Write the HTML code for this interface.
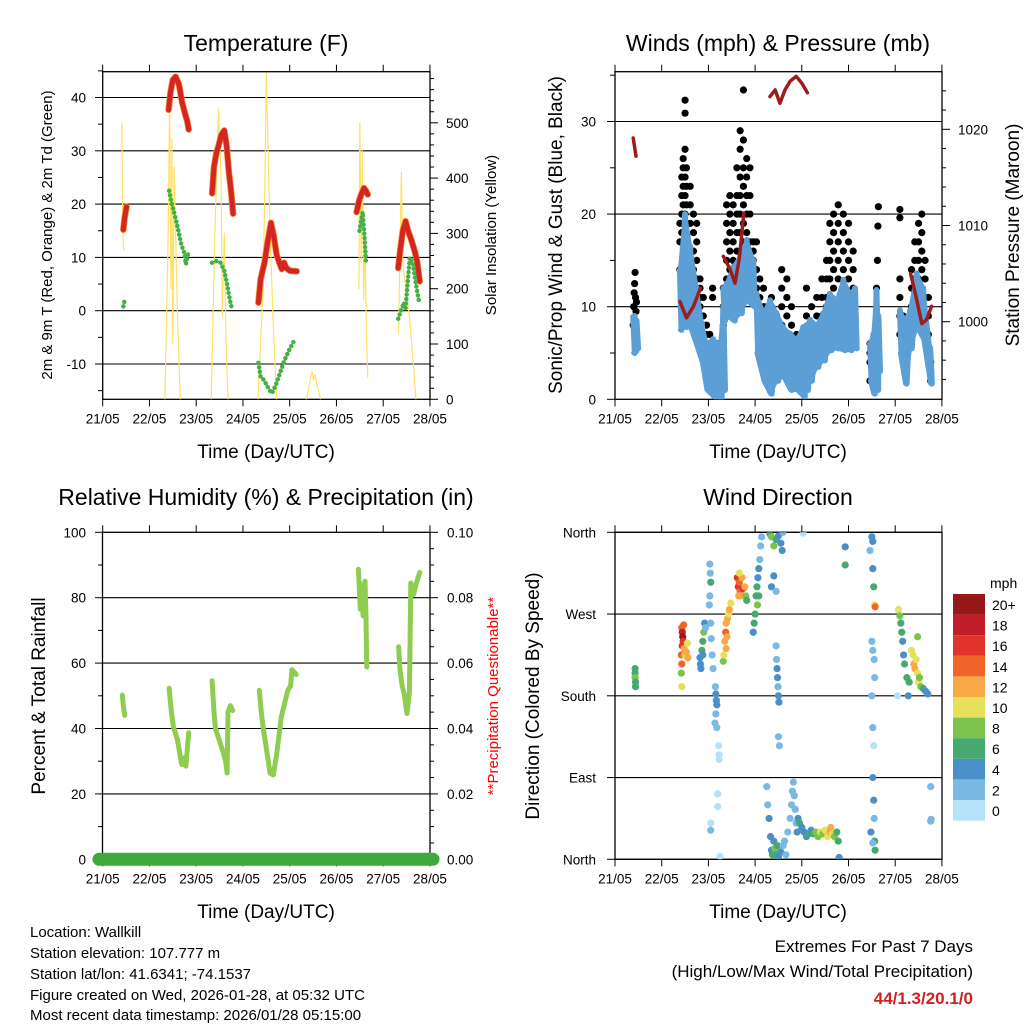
<!DOCTYPE html>
<html><head><meta charset="utf-8">
<style>
html,body{margin:0;padding:0;background:#fff;}
svg{display:block;font-family:"Liberation Sans",sans-serif;}
</style></head>
<body>
<svg id="chart" width="1024" height="1024" viewBox="0 0 1024 1024" xmlns="http://www.w3.org/2000/svg">
<defs>
<clipPath id="cTL"><rect x="102.7" y="71.7" width="327.3" height="327.6"/></clipPath>
<clipPath id="cTR"><rect x="615" y="71.7" width="327" height="327.6"/></clipPath>
<clipPath id="cBL"><rect x="102.5" y="532.3" width="327.5" height="327"/></clipPath>
<clipPath id="cBR"><rect x="615" y="532.3" width="327" height="327"/></clipPath>
</defs>
<g id="layer"></g>
<text x="266" y="51" font-size="23" text-anchor="middle">Temperature (F)</text>
<text x="778" y="51" font-size="23" text-anchor="middle">Winds (mph) &amp; Pressure (mb)</text>
<text x="266" y="505" font-size="23" text-anchor="middle">Relative Humidity (%) &amp; Precipitation (in)</text>
<text x="778" y="505" font-size="23" text-anchor="middle">Wind Direction</text>
<text x="266" y="458" font-size="19" text-anchor="middle">Time (Day/UTC)</text>
<text x="778" y="458" font-size="19" text-anchor="middle">Time (Day/UTC)</text>
<text x="266" y="918" font-size="19" text-anchor="middle">Time (Day/UTC)</text>
<text x="778" y="918" font-size="19" text-anchor="middle">Time (Day/UTC)</text>
<text transform="translate(52,235) rotate(-90)" font-size="15" text-anchor="middle">2m &amp; 9m T (Red, Orange) &amp; 2m Td (Green)</text>
<text transform="translate(496,235) rotate(-90)" font-size="15" text-anchor="middle">Solar Insolation (Yellow)</text>
<text transform="translate(562,235) rotate(-90)" font-size="19" text-anchor="middle">Sonic/Prop Wind &amp; Gust (Blue, Black)</text>
<text transform="translate(1019,235) rotate(-90)" font-size="19" text-anchor="middle">Station Pressure (Maroon)</text>
<text transform="translate(45,696) rotate(-90)" font-size="19" text-anchor="middle">Percent &amp; Total Rainfall</text>
<text transform="translate(498,696) rotate(-90)" font-size="15" fill="#ff0000" text-anchor="middle">**Precipitation Questionable**</text>
<text transform="translate(539,696) rotate(-90)" font-size="19" text-anchor="middle">Direction (Colored By Speed)</text>
<g font-size="15">
<text x="30" y="937">Location: Wallkill</text>
<text x="30" y="958">Station elevation: 107.777 m</text>
<text x="30" y="979">Station lat/lon: 41.6341; -74.1537</text>
<text x="30" y="1000">Figure created on Wed, 2026-01-28, at 05:32 UTC</text>
<text x="30" y="1020">Most recent data timestamp: 2026/01/28 05:15:00</text>
</g>
<g font-size="17" text-anchor="end">
<text x="973" y="952">Extremes For Past 7 Days</text>
<text x="973" y="977">(High/Low/Max Wind/Total Precipitation)</text>
<text x="973" y="1004" fill="#cc2222" font-weight="bold">44/1.3/20.1/0</text>
</g>
</svg>
<script>
// ---------- data ----------
const dayLabels=["21/05","22/05","23/05","24/05","25/05","26/05","27/05","28/05"];
const tempTicks=[-10,0,10,20,30,40];
const solarTicks=[0,100,200,300,400,500];
const windTicks=[0,10,20,30];
const presTicks=[1000,1010,1020];
const rhTicks=[0,20,40,60,80,100];
const precipTicks=["0.00","0.02","0.04","0.06","0.08","0.10"];
const dirTicks=["North","West","South","East","North"];
const legendLabels=["0","2","4","6","8","10","12","14","16","18","20+"];
const legendColors=["#b5e2f8","#7ab9e4","#4a8fc8","#47a872","#7cc34c","#e6e05a","#f8a844","#f06428","#e0342a","#c01e28","#961818"];

const tempSegs=[
 [[0.44,15.2],[0.47,17.5],[0.51,19.5]],
 [[1.41,37.7],[1.45,41],[1.50,43.3],[1.56,43.9],[1.63,42.5],[1.70,39],[1.76,37],[1.81,35.5],[1.84,34]],
 [[2.34,22],[2.38,27],[2.43,29.5],[2.48,31],[2.54,33],[2.60,33.8],[2.65,31],[2.70,26],[2.75,22],[2.79,18.2]],
 [[3.33,1.5],[3.38,6],[3.46,9],[3.53,13],[3.60,16.5],[3.66,14],[3.72,10.5],[3.78,9],[3.83,7.8],[3.88,9],[3.93,8],[4.0,7.5],[4.15,7.4]],
 [[5.43,18.5],[5.48,20.5],[5.53,21.8],[5.59,23],[5.63,22.5],[5.67,21.8]],
 [[6.32,8],[6.36,11],[6.42,15],[6.48,16.8],[6.53,15],[6.60,13.3],[6.68,11],[6.73,9],[6.78,5.5]]
];
const dewSegs=[
 [[0.44,0.8],[0.47,2]],
 [[1.42,22.5],[1.48,20],[1.54,18],[1.62,15],[1.68,12.5],[1.74,11],[1.78,8.7],[1.83,11]],
 [[2.34,9],[2.43,9.3],[2.52,9],[2.60,7.5],[2.66,5],[2.70,3],[2.76,0.5]],
 [[3.33,-9.8],[3.38,-12.5],[3.45,-13],[3.51,-14],[3.56,-14.8],[3.62,-15.5],[3.70,-14],[3.78,-12],[3.88,-9.5],[3.98,-7.5],[4.12,-5.2]],
 [[5.49,15],[5.53,17],[5.56,18.5],[5.60,14],[5.63,9.2]],
 [[6.32,-1.5],[6.38,0],[6.44,1.5],[6.48,0.5],[6.53,6],[6.57,10],[6.63,9],[6.70,5],[6.77,1.5]]
];
const solarSegs=[
 [[0.41,500],[0.43,300],[0.45,270]],
 [[1.33,0],[1.40,300],[1.43,540],[1.46,200],[1.48,470],[1.50,100],[1.53,420],[1.56,300],[1.60,150],[1.66,0]],
 [[2.32,0],[2.40,300],[2.45,450],[2.48,525],[2.53,400],[2.56,150],[2.60,300],[2.64,100],[2.68,0]],
 [[3.32,0],[3.43,200],[3.47,390],[3.50,590],[3.53,480],[3.58,300],[3.64,150],[3.72,0]],
 [[4.36,0],[4.45,40],[4.48,50],[4.51,35],[4.54,45],[4.60,20],[4.66,0]],
 [[5.48,200],[5.50,500],[5.53,250],[5.55,450],[5.58,180],[5.61,300],[5.64,120],[5.67,40]],
 [[6.33,120],[6.39,410],[6.42,250],[6.48,200],[6.56,150],[6.63,80],[6.70,0]]
];
const rhSegs=[
 [[0.42,50.2],[0.44,47],[0.47,44]],
 [[1.42,52.3],[1.47,45],[1.51,40.6],[1.60,36.5],[1.69,29],[1.74,31],[1.78,28.5],[1.84,38.7]],
 [[2.34,54.6],[2.38,45],[2.41,40],[2.55,34],[2.63,30],[2.66,26.4],[2.68,45],[2.73,47],[2.78,45.5]],
 [[3.35,51.7],[3.40,44],[3.44,39.5],[3.52,32],[3.58,26.3],[3.65,25.8],[3.72,32],[3.82,43.5],[3.96,51.7],[4.02,53],[4.05,58],[4.14,56.5]],
 [[5.47,88.7],[5.51,76.5],[5.53,84],[5.57,74.5],[5.61,85],[5.63,75],[5.65,58.8]],
 [[6.33,65],[6.36,58],[6.40,53.5],[6.45,50.5],[6.51,44.6],[6.56,51],[6.59,84.5],[6.65,81],[6.70,84],[6.78,87.7]]
];
const precipT=[-0.1,7.1];
const precipV=[0,0];

const windBandT=[[0.39,0.42,0.46],
 [1.39,1.50,1.61,1.75,1.86,1.96,2.10,2.25,2.32],
 [2.32,2.39,2.53,2.68,2.82,2.96],
 [3.03,3.18,3.32,3.46,3.60,3.75,3.89,4.03],
 [4.10,4.18,4.32,4.46,4.60,4.75,4.89,5.03,5.14],
 [5.46,5.53,5.60,5.64],
 [6.10,6.21,6.32,6.46,6.60,6.75]];
const windHi=[[8.9,9,8.5],
 [14,20,16.5,12,8.2,6,6.5,5.8,10],
 [12,12.5,14.3,15.4,17.2,15],
 [11.4,9.3,10.7,9.3,7.8,7.1,6.5,7.8],
 [8,8.6,8,9.3,11.4,10.7,12.9,11.4,12],
 [6,7,11.8,9],
 [9.6,8.5,9.6,13.6,12,5.5]];
const windLo=[[5,5.2,5.5],
 [7.5,7.8,7.8,5.7,4,1,0.3,0,1],
 [8.5,9,8.5,9.3,10.7,10],
 [5,2,0.6,2,2.5,1,1,0.3],
 [1,2,3.5,4.2,5.3,5.5,5.3,5.3,5.5],
 [2,0.6,1,3],
 [5,1.7,5.5,7.8,6.5,1.7]];

const gustT=[0.39,0.40,0.41,0.42,0.43,0.44,0.45,0.46,0.43,
1.39,1.39,1.39,1.43,1.43,1.43,1.43,1.46,1.46,1.46,1.46,1.46,1.50,1.50,1.50,1.50,1.50,1.50,1.50,1.53,1.53,1.53,1.53,1.53,1.61,1.61,1.61,1.61,1.61,1.68,1.68,1.68,1.68,1.68,1.75,1.75,1.75,1.75,1.75,1.82,1.82,1.82,1.82,1.89,1.89,1.89,1.96,1.96,1.96,2.03,2.03,2.03,2.03,2.09,2.09,2.09,2.09,2.18,2.18,2.18,2.18,2.25,2.25,2.25,2.25,
2.32,2.32,2.32,2.39,2.39,2.39,2.39,2.39,2.46,2.46,2.46,2.46,2.46,2.53,2.53,2.53,2.53,2.61,2.61,2.61,2.61,2.61,2.68,2.68,2.68,2.68,2.68,2.68,2.75,2.75,2.75,2.75,2.75,2.75,2.75,2.82,2.82,2.82,2.82,2.82,2.82,2.89,2.89,2.89,2.89,2.89,2.96,2.96,2.96,2.96,2.96,
3.03,3.03,3.03,3.03,3.10,3.10,3.10,3.10,3.18,3.18,3.18,3.18,3.25,3.25,3.25,3.35,3.35,3.35,3.35,3.46,3.46,3.46,3.46,3.57,3.57,3.57,3.57,3.57,3.68,3.68,3.68,3.68,3.68,3.78,3.78,3.78,3.78,3.89,3.89,3.89,3.89,3.89,4.00,4.00,4.00,4.00,4.10,4.10,4.10,4.10,
4.21,4.21,4.21,4.32,4.32,4.32,4.43,4.43,4.43,4.43,4.53,4.53,4.53,4.53,4.60,4.60,4.60,4.60,4.60,4.68,4.68,4.68,4.68,4.68,4.78,4.78,4.78,4.78,4.78,4.89,4.89,4.89,4.89,4.89,5.00,5.00,5.00,5.00,5.00,5.10,5.10,5.10,5.10,
5.46,5.46,5.46,5.46,5.53,5.53,5.60,5.62,5.63,5.64,
6.10,6.10,6.10,6.10,6.10,6.10,6.17,6.17,6.17,6.17,6.35,6.35,6.35,6.35,6.35,6.42,6.42,6.42,6.42,6.50,6.50,6.50,6.50,6.57,6.57,6.57,6.57,6.64,6.64,6.64,6.64,6.71,6.71,6.71,6.76,6.76,6.76];
const gustV=[8,10,11.5,12.5,13.7,11,9.5,10.5,8.5,
14,17,19,20,22,24,18,26,25,23,21,19,32.3,30.9,27,24,22,20,18,25,23,21,19,17,23,21,19,16,14,20,18,16,14,12,19,17,15,13,11,13,12,11,10,11,9,8,8,7,6,7,5,4,3,12,11,6,4,6,5,3,2,5,3,1,0.2,
12,10,8,21,19,17,15,13,22,20,18,16,14,21,19,17,15,25,22,20,18,16,29,27,24,22,20,18,33.4,28,25,23,21,19,17,26,24,22,20,18,16,25,22,20,17,15,17,16,15,14,12,
17,14,12,10,13,11,9,8,12,10,8,6,10,8,6,11,9,8,6,9,7,6,5,14,12,10,8,6,13,11,9,7,5,10,8,6,5,7,6,5,4,3,6,5,4,3,12,9,7,5,
10,8,6,11,9,7,13,11,9,8,15,13,11,10,19,17,15,13,11,20,18,16,14,12,21,19,17,15,13,20,18,16,14,12,19,17,15,13,11,16,14,12,11,
6,5,4,2,4,3,12,15,18.7,20.8,
20.5,19.6,13,11,9,7,9,8,6,4,14,12,10,8,7,17,15,13,11,19,17,15,13,20,18,16,14,15,13,11,9,11,9,7,4,3,2];

const presSegs=[
 [[0.39,1019.1],[0.45,1017.2]],
 [[1.39,1002.1],[1.53,1000.4],[1.68,1001.6],[1.83,1003.5]],
 [[2.32,1006.8],[2.46,1005.5],[2.57,1004],[2.66,1006.5],[2.76,1011.3]],
 [[3.32,1023.4],[3.43,1024.1],[3.53,1022.7],[3.64,1024.1],[3.75,1025],[3.88,1025.5],[4.0,1024.8],[4.12,1023.8]],
 [[5.46,987.5],[5.53,985.8],[5.64,987.2]],
 [[6.33,1005],[6.46,1002.3],[6.57,999.8],[6.67,1000.2],[6.78,1001.6]]
];

const dirT=[0.43,0.43,0.44,0.43,0.44,
1.43,1.44,1.45,1.46,1.44,1.47,1.42,1.43,1.43,1.48,1.50,1.53,1.56,1.55,1.42,
1.82,1.83,1.84,1.86,1.88,1.90,1.92,1.94,1.88,
2.03,2.04,2.05,2.03,2.02,2.05,2.06,2.08,2.10,2.15,2.16,2.17,2.18,2.16,2.14,2.18,2.22,2.23,2.23,2.20,2.20,2.05,2.05,2.25,
2.32,2.33,2.35,2.37,2.38,2.41,2.43,2.45,2.48,2.40,2.38,
2.62,2.64,2.66,2.68,2.70,2.72,2.74,2.66,2.65,2.78,2.80,2.82,
2.96,2.98,3.00,3.02,3.04,3.06,3.08,3.10,3.12,3.14,3.08,3.05,
3.32,3.35,3.40,3.45,3.50,3.55,3.60,3.58,3.35,3.45,3.40,4.03,
3.45,3.46,3.47,3.48,3.49,3.50,3.51,3.50,3.52,
3.25,3.27,3.30,3.33,3.35,3.37,3.40,3.42,3.45,3.48,3.50,3.55,3.60,3.63,3.66,3.70,3.75,3.78,3.80,3.82,3.84,3.86,3.88,3.90,3.92,3.95,4.00,4.05,4.10,4.15,4.20,4.25,4.30,4.35,4.40,4.45,4.50,4.55,4.60,4.62,4.65,4.70,4.75,4.78,4.80,
5.46,5.50,5.52,5.52,5.54,5.56,5.57,5.50,5.52,5.55,5.56,5.50,5.52,5.54,5.52,5.54,5.55,5.48,5.56,5.57,5.52,4.93,4.93,
6.07,6.10,6.12,6.14,6.16,6.18,6.20,6.25,6.30,6.35,6.38,6.40,6.42,6.45,6.48,6.50,6.52,6.55,6.60,6.65,6.70,6.48,6.28,6.05,6.76,6.76,6.77];
const dirD=[205,200,195,210,190,
255,250,245,240,235,258,225,215,190,232,225,228,222,238,205,
222,215,210,230,240,250,260,255,225,
325,315,305,290,280,260,243,225,210,190,182,175,170,160,150,145,125,115,110,72,58,40,32,3,
218,225,240,250,260,265,270,275,282,245,232,
310,300,305,295,290,310,298,315,290,300,290,285,
250,260,270,290,300,310,320,330,345,355,290,280,
358,355,345,352,356,348,360,340,300,295,312,359,
235,220,210,200,190,180,173,135,125,
80,60,45,25,10,5,20,12,5,15,3,8,15,20,5,30,45,60,75,85,70,55,40,30,45,40,35,30,25,28,32,28,30,25,30,28,32,25,30,35,28,25,30,20,2,
340,355,350,320,300,280,278,240,230,220,200,180,145,125,90,65,45,30,20,10,18,344,324,
275,268,260,250,240,225,215,200,195,230,225,215,210,220,205,195,200,190,188,185,182,245,180,180,80,42,44];
const dirS=[7,8,7,6,6,
15,18,20,17,16,14,14,15,10,12,11,12,13,10,8,
4,5,4,6,7,8,4,3,5,
3,2,6,3,2,2,2,3,3,2,4,4,4,3,2,2,1,1,1,1,1,1,2,1,
9,10,13,14,13,12,11,12,11,12,13,
16,17,14,15,13,12,16,10,12,12,8,7,
4,7,6,6,7,5,4,3,3,3,7,8,
6,8,8,7,4,4,3,5,5,2,4,1,
2,3,4,4,3,4,5,3,2,
2,2,4,4,5,6,5,8,6,7,5,4,3,2,2,3,2,3,2,3,2,3,3,4,5,6,5,4,5,6,5,7,8,8,10,9,11,10,12,13,10,8,6,7,4,
3,4,4,4,6,11,14,2,2,2,2,2,2,1,4,4,2,4,6,6,2,4,7,
10,8,7,6,5,4,6,6,7,10,11,12,13,10,11,11,9,8,7,5,4,8,4,1,3,3,3];

// ---------- scales ----------
const L={x0:102.7,day:46.75}, R={x0:615,day:46.7};
const xL=t=>L.x0+t*L.day, xR=t=>R.x0+t*R.day;
const tempY=v=>310.7-v*5.33, solarY=s=>399.3-s*0.553;
const windY=v=>399.3-v*9.26, presY=p=>129.3-(p-1020)*9.62;
const rhY=v=>859.3-v*3.27, dirY=d=>859.3-d*0.9083;

const NS="http://www.w3.org/2000/svg";
const layer=document.getElementById('layer');
function mk(tag,attrs,parent){const e=document.createElementNS(NS,tag);for(const k in attrs)e.setAttribute(k,attrs[k]);(parent||layer).appendChild(e);return e;}
function txt(x,y,s,anchor,size,parent){const e=mk('text',{x:x,y:y,'font-size':size||13,'text-anchor':anchor||'middle'},parent);e.textContent=s;return e;}
function poly(pts,fx,fy,attrs,parent){const d=pts.map((p,i)=>(i?'L':'M')+fx(p[0]).toFixed(1)+','+fy(p[1]).toFixed(1)).join('');const a=Object.assign({d:d,fill:'none','stroke-linejoin':'round','stroke-linecap':'round'},attrs);return mk('path',a,parent);}

function frame(x0,y0,x1,y1,name,xfun){
  const g=mk('g',{});
  
  
  mk('rect',{x:x0,y:y0,width:x1-x0,height:y1-y0,fill:'none',stroke:'#000','stroke-width':1.3},g);
  dayLabels.forEach((lab,i)=>{const x=xfun(i);
    mk('line',{x1:x,x2:x,y1:y1,y2:y1+7,stroke:'#000','stroke-width':1},g);
    mk('line',{x1:x,x2:x,y1:y0,y2:y0-7,stroke:'#000','stroke-width':1},g);
    const t=txt(x,y1+24,lab,'middle',13.5,g);
    
    
  });
  return g;
}
function grid(y,x0,x1,g){mk('line',{x1:x0,x2:x1,y1:y,y2:y,stroke:'#000','stroke-width':1.1},g);}

// ===== Panel TL: Temperature =====
{
 const g=frame(102.7,71.7,430,399.3,'temperature',xL);
 tempTicks.forEach(v=>{const y=tempY(v);grid(y,102.7,430,g);mk('line',{x1:95,x2:102.7,y1:y,y2:y,stroke:'#000'},g);txt(86,y+5,String(v),'end',13.5,g);});
 for(let v=-15;v<=45;v+=5){if(v%10){const y=tempY(v);mk('line',{x1:98,x2:102.7,y1:y,y2:y,stroke:'#000'},g);}}
 solarTicks.forEach(s=>{const y=solarY(s);mk('line',{x1:430,x2:438,y1:y,y2:y,stroke:'#000'},g);txt(446,y+5,String(s),'start',13.5,g);});
 for(let s=20;s<600;s+=20){if(s%100){const y=solarY(s);if(y>71.7)mk('line',{x1:430,x2:434,y1:y,y2:y,stroke:'#000'},g);}}
 const c=mk('g',{'clip-path':'url(#cTL)'});
 
 
 solarSegs.forEach(s=>{const p=poly(s,xL,solarY,{stroke:'#ffe066','stroke-width':1.2},c);
  
  });
 tempSegs.forEach(s=>{const p=poly(s,xL,tempY,{stroke:'#f58a2a','stroke-width':6.5},c);
  
  });
 tempSegs.forEach(s=>{const p=poly(s,xL,tempY,{stroke:'#d42424','stroke-width':5},c);
  
  });
 dewSegs.forEach(s=>{const p=poly(s,xL,tempY,{stroke:'#44b044','stroke-width':4.5,'stroke-dasharray':'0 4.5'},c);
  
  });
}
// ===== Panel TR: Winds =====
{
 const g=frame(615,71.7,942,399.3,'winds',xR);
 windTicks.forEach(v=>{const y=windY(v);if(v>0)grid(y,615,942,g);mk('line',{x1:607,x2:615,y1:y,y2:y,stroke:'#000'},g);txt(596,y+5,String(v),'end',13.5,g);});
 for(let v=5;v<36;v+=10){const y=windY(v);mk('line',{x1:610,x2:615,y1:y,y2:y,stroke:'#000'},g);}
 presTicks.forEach(p=>{const y=presY(p);mk('line',{x1:942,x2:950,y1:y,y2:y,stroke:'#000'},g);txt(958,y+5,String(p),'start',13.5,g);});
 for(let p=994;p<=1026;p+=2){if(p%10){const y=presY(p);if(y>71.7&&y<399)mk('line',{x1:942,x2:946,y1:y,y2:y,stroke:'#000'},g);}}
 const c=mk('g',{'clip-path':'url(#cTR)'});
 
 
 for(let i=0;i<gustT.length;i++){const d=mk('circle',{cx:xR(gustT[i]),cy:windY(gustV[i]),r:3.6,fill:'#000'},c);
  
  }
 windBandT.forEach((ts,k)=>{
  const pts=[];ts.forEach((t,i)=>{pts.push([t,windHi[k][i]]);pts.push([t+0.035,windLo[k][i]]);});
  const p=poly(pts,xR,windY,{stroke:'#5b9fd6','stroke-width':6},c);
  
  
  const band=ts.map((t,i)=>[t,windHi[k][i]]).concat(ts.map((t,i)=>[t,windLo[k][i]]).reverse());
  const f=poly(band,xR,windY,{stroke:'#5b9fd6','stroke-width':4,fill:'#5b9fd6'},c);
  
  
 });
 presSegs.forEach(s=>{const p=poly(s,xR,presY,{stroke:'#a01c1c','stroke-width':3.5},c);
  
  });
}
// ===== Panel BL: RH =====
{
 const g=frame(102.5,532.3,430,859.3,'humidity',xL);
 rhTicks.forEach((v,i)=>{const y=rhY(v);if(v>0&&v<100)grid(y,102.5,430,g);mk('line',{x1:95,x2:102.5,y1:y,y2:y,stroke:'#000'},g);txt(86,y+5,String(v),'end',13.5,g);
   mk('line',{x1:430,x2:438,y1:y,y2:y,stroke:'#000'},g);txt(447,y+5,precipTicks[i],'start',13.5,g);});
 for(let v=10;v<100;v+=20){const y=rhY(v);mk('line',{x1:98,x2:102.5,y1:y,y2:y,stroke:'#000'},g);}
 for(let v=5;v<100;v+=5){if(v%20){const y=rhY(v);mk('line',{x1:430,x2:434,y1:y,y2:y,stroke:'#000'},g);}}
 const c=mk('g',{'clip-path':'url(#cBL)'});
 
 
 rhSegs.forEach(s=>{const p=poly(s,xL,rhY,{stroke:'#8fcc50','stroke-width':5},c);
  
  });
 const pr=poly(precipT.map((t,i)=>[t,precipV[i]]),t=>Math.max(99,Math.min(433,xL(t))),v=>rhY(v*1000),{stroke:'#3cab3c','stroke-width':13});
 
 
}
// ===== Panel BR: Direction =====
{
 const g=frame(615,532.3,942,859.3,'direction',xR);
 dirTicks.forEach((lab,i)=>{const y=dirY(360-i*90);grid(y,615,942,g);mk('line',{x1:607,x2:615,y1:y,y2:y,stroke:'#000'},g);txt(596,y+5,lab,'end',13.5,g);});
 const c=mk('g',{'clip-path':'url(#cBR)'});
 
 
 for(let i=0;i<dirT.length;i++){const bin=Math.min(10,Math.floor(dirS[i]/2));
  const d=mk('circle',{cx:xR(dirT[i]),cy:dirY(dirD[i]),r:3.6,fill:legendColors[bin]},c);
  
  }
 // legend
 const lg=mk('g',{});
 
 
 txt(990,588,'mph','start',14,lg);
 legendColors.forEach((col,i)=>{const y=594+(10-i)*20.6;
  const r=mk('rect',{x:953,y:y,width:32,height:20.6,fill:col},lg);
  
  
  txt(992,y+16,legendLabels[i],'start',14,lg);});
}
</script>
</body></html>
